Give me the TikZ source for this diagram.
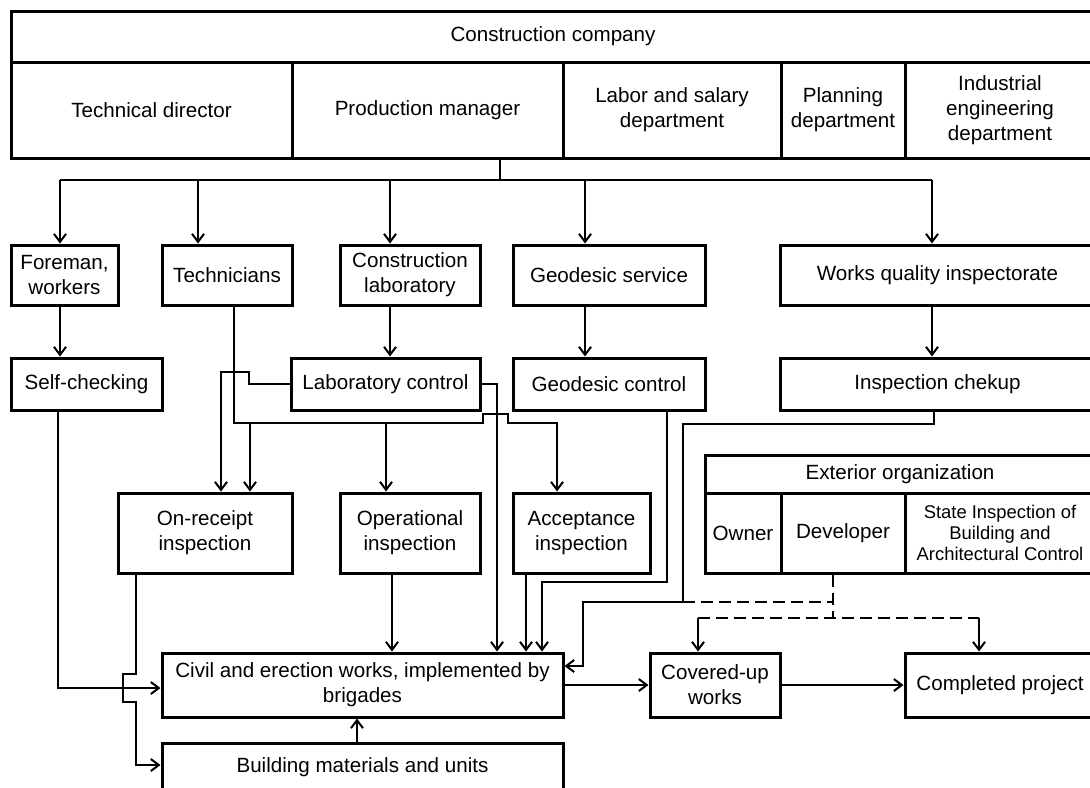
\documentclass[tikz,border=0pt]{standalone}
\usepackage{fontspec}
\setmainfont{Liberation Sans}
\usepackage{xcolor}
\usepackage{tikz}
\usetikzlibrary{arrows.meta}
\definecolor{inkblack}{RGB}{0,0,0}

\tikzset{
  box/.style={draw=inkblack, line width=1.5pt, align=center, inner sep=2pt,
    font=\fontsize{10.3}{12.5}\selectfont},
  wire/.style={draw=inkblack, line width=1pt},
  arr/.style={wire, -{Straight Barb[length=4pt,width=6pt]}},
  dwire/.style={wire, dash pattern=on 6pt off 3pt},
}

\begin{document}
\begin{tikzpicture}[x=0.5pt, y=-0.5pt]
\path[use as bounding box, clip] (0,0) rectangle (1090,787);

% company frame
\node[box, minimum width=542pt, minimum height=25.5pt] (company) at (553,36.5) {Construction company};
\node[box, minimum width=140.5pt, minimum height=48pt] (techdir) at (151.5,110) {Technical director};
\node[box, minimum width=135.5pt, minimum height=48pt] (prodman) at (427.5,110) {Production manager};
\node[box, minimum width=109pt, minimum height=48pt] (labor) at (672,110) {Labor and salary\\department};
\node[box, minimum width=62pt, minimum height=48pt] (planning) at (843,110) {Planning\\department};
\node[box, minimum width=95pt, minimum height=48pt] (industrial) at (1000,110) {Industrial\\engineering\\department};

% services
\node[box, minimum width=53.5pt, minimum height=30pt] (foreman) at (64.5,275) {Foreman,\\workers};
\node[box, minimum width=65pt, minimum height=30pt] (technicians) at (227,275) {Technicians};
\node[box, minimum width=70pt, minimum height=30pt] (constlab) at (410,275) {Construction\\laboratory};
\node[box, minimum width=96pt, minimum height=30pt] (geoserv) at (609,275) {Geodesic service};
\node[box, minimum width=157.5pt, minimum height=30pt] (quality) at (937.5,275) {Works quality inspectorate};

% controls
\node[box, minimum width=75.5pt, minimum height=26pt] (selfcheck) at (86.5,384) {Self-checking};
\node[box, minimum width=94.5pt, minimum height=26pt] (labctrl) at (385.5,384) {Laboratory control};
\node[box, minimum width=96pt, minimum height=26pt] (geoctrl) at (609,384) {Geodesic control};
\node[box, minimum width=157.5pt, minimum height=26pt] (inspect) at (937.5,384) {Inspection chekup};

% inspections
\node[box, minimum width=87pt, minimum height=40pt] (onreceipt) at (205,533) {On-receipt\\inspection};
\node[box, minimum width=70pt, minimum height=40pt] (operational) at (410,533) {Operational\\inspection};
\node[box, minimum width=68.5pt, minimum height=40pt] (acceptance) at (581.5,533) {Acceptance\\inspection};

% exterior organization
\node[box, minimum width=195pt, minimum height=19pt] (exterior) at (900,474) {Exterior organization};
\node[box, minimum width=38pt, minimum height=40pt] (owner) at (743,533) {Owner};
\node[box, minimum width=62pt, minimum height=40pt] (developer) at (843,533) {Developer};
\node[box, minimum width=95pt, minimum height=40pt, font=\fontsize{9.2}{10.5}\selectfont] (stateinsp) at (1000,533) {State Inspection of\\Building and\\Architectural Control};

% works
\node[box, minimum width=200.5pt, minimum height=32pt] (civil) at (362.5,685) {Civil and erection works, implemented by\\brigades};
\node[box, minimum width=65pt, minimum height=32pt] (covered) at (715,685) {Covered-up\\works};
\node[box, minimum width=95pt, minimum height=32pt] (completed) at (1000,685) {Completed project};
\node[box, minimum width=200.5pt, minimum height=24pt] (materials) at (362.5,767) {Building materials and units};

% production manager bus
\coordinate (bus) at (500,180);
\draw[wire] (prodman.south -| bus) -- (bus);
\draw[wire] (60,180) -- (932,180);
\foreach \x/\name in {60/foreman, 198/technicians, 390/constlab, 585/geoserv, 932/quality}
  \draw[arr] (\x,180) -- (\name.north -| \x,0);
\foreach \x/\a/\b in {60/foreman/selfcheck, 390/constlab/labctrl, 585/geoserv/geoctrl, 932/quality/inspect}
  \draw[arr] (\a.south -| \x,0) -- (\b.north -| \x,0);

% technicians
\draw[arr] (technicians.south -| 234,0) |- (483,423) |- (508,414) |- (557,423) -- (acceptance.north -| 557,0);
\draw[arr] (250,423) -- (onreceipt.north -| 250,0);
\draw[arr] (386,423) -- (operational.north -| 386,0);

% laboratory control
\draw[arr] (labctrl.west) -- (249,384) |- (221,372) -- (onreceipt.north -| 221,0);
\draw[arr] (labctrl.east) -| (civil.north -| 497,0);

% into civil works
\draw[arr] (acceptance.south -| 526,0) -- (civil.north -| 526,0);
\draw[arr] (geoctrl.south -| 667,0) |- (542,582) -- (civil.north -| 542,0);
\draw[arr] (operational.south -| 392,0) -- (civil.north -| 392,0);
\draw[arr] (inspect.south -| 934,0) |- (683,424) |- (583,602) |- (civil.east |- 0,666);
\draw[arr] (selfcheck.south -| 58,0) |- (civil.west |- 0,688);
\draw[arr] (onreceipt.south -| 136,0) |- (123,674) |- (136,702) |- (materials.west |- 0,765);
\draw[arr] (materials.north -| 357,0) -- (civil.south -| 357,0);

% developer
\draw[dwire] (developer.south -| 833,0) -- (833,618);
\draw[dwire] (683,602) -- (833,602);
\draw[dwire] (698,618) -- (979,618);
\draw[arr] (698,618) -- (covered.north -| 698,0);
\draw[arr] (979,618) -- (completed.north -| 979,0);

% flow
\draw[arr] (civil.east) -- (covered.west);
\draw[arr] (covered.east) -- (completed.west);
\end{tikzpicture}
\end{document}
